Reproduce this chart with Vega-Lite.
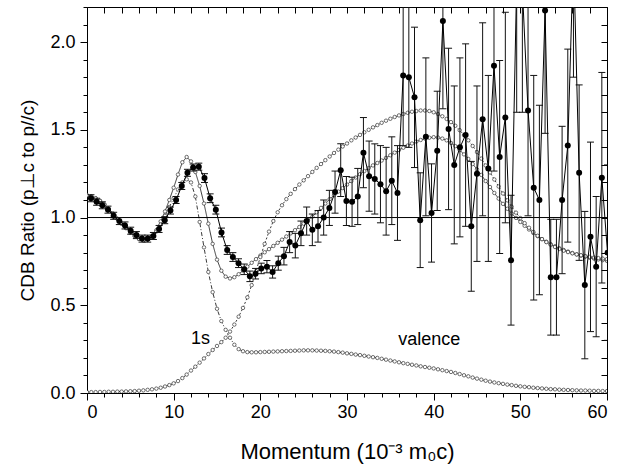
{
  "$schema": "https://vega.github.io/schema/vega-lite/v6.json",
  "width": 520,
  "height": 386,
  "autosize": "none",
  "padding": {"left": 87, "top": 7, "right": 10, "bottom": 75},
  "config": {"view": {"stroke": "black", "strokeWidth": 1}, "font": "Liberation Sans"},
  "datasets": {
    "theory": [
      {"x":0,"y":1.127,"s":"total"},{"x":0.5,"y":1.12,"s":"total"},{"x":1,"y":1.11,"s":"total"},{"x":1.5,"y":1.095,"s":"total"},{"x":2,"y":1.075,"s":"total"},{"x":2.5,"y":1.05,"s":"total"},{"x":3,"y":1.022,"s":"total"},{"x":3.5,"y":0.993,"s":"total"},{"x":4,"y":0.965,"s":"total"},{"x":4.5,"y":0.94,"s":"total"},{"x":5,"y":0.915,"s":"total"},{"x":5.5,"y":0.895,"s":"total"},{"x":6,"y":0.878,"s":"total"},{"x":6.5,"y":0.87,"s":"total"},{"x":7,"y":0.874,"s":"total"},{"x":7.5,"y":0.893,"s":"total"},{"x":8,"y":0.928,"s":"total"},{"x":8.5,"y":0.978,"s":"total"},{"x":9,"y":1.035,"s":"total"},{"x":9.5,"y":1.1,"s":"total"},{"x":10,"y":1.17,"s":"total"},{"x":10.5,"y":1.245,"s":"total"},{"x":11,"y":1.315,"s":"total"},{"x":11.5,"y":1.345,"s":"total"},{"x":12,"y":1.32,"s":"total"},{"x":12.5,"y":1.26,"s":"total"},{"x":13,"y":1.18,"s":"total"},{"x":13.5,"y":1.08,"s":"total"},{"x":14,"y":0.965,"s":"total"},{"x":14.5,"y":0.85,"s":"total"},{"x":15,"y":0.76,"s":"total"},{"x":15.5,"y":0.697,"s":"total"},{"x":16,"y":0.663,"s":"total"},{"x":16.5,"y":0.653,"s":"total"},{"x":17,"y":0.66,"s":"total"},{"x":17.5,"y":0.677,"s":"total"},{"x":18,"y":0.698,"s":"total"},{"x":18.5,"y":0.72,"s":"total"},{"x":19,"y":0.742,"s":"total"},{"x":19.5,"y":0.763,"s":"total"},{"x":20,"y":0.783,"s":"total"},{"x":20.5,"y":0.802,"s":"total"},{"x":21,"y":0.82,"s":"total"},{"x":21.5,"y":0.838,"s":"total"},{"x":22,"y":0.856,"s":"total"},{"x":22.5,"y":0.874,"s":"total"},{"x":23,"y":0.892,"s":"total"},{"x":23.5,"y":0.91,"s":"total"},{"x":24,"y":0.928,"s":"total"},{"x":24.5,"y":0.946,"s":"total"},{"x":25,"y":0.965,"s":"total"},{"x":25.5,"y":0.985,"s":"total"},{"x":26,"y":1.005,"s":"total"},{"x":26.5,"y":1.03,"s":"total"},{"x":27,"y":1.055,"s":"total"},{"x":27.5,"y":1.08,"s":"total"},{"x":28,"y":1.105,"s":"total"},{"x":28.5,"y":1.127,"s":"total"},{"x":29,"y":1.148,"s":"total"},{"x":29.5,"y":1.168,"s":"total"},{"x":30,"y":1.188,"s":"total"},{"x":30.5,"y":1.208,"s":"total"},{"x":31,"y":1.228,"s":"total"},{"x":31.5,"y":1.247,"s":"total"},{"x":32,"y":1.265,"s":"total"},{"x":32.5,"y":1.282,"s":"total"},{"x":33,"y":1.297,"s":"total"},{"x":33.5,"y":1.311,"s":"total"},{"x":34,"y":1.325,"s":"total"},{"x":34.5,"y":1.34,"s":"total"},{"x":35,"y":1.355,"s":"total"},{"x":35.5,"y":1.37,"s":"total"},{"x":36,"y":1.385,"s":"total"},{"x":36.5,"y":1.398,"s":"total"},{"x":37,"y":1.41,"s":"total"},{"x":37.5,"y":1.422,"s":"total"},{"x":38,"y":1.433,"s":"total"},{"x":38.5,"y":1.442,"s":"total"},{"x":39,"y":1.45,"s":"total"},{"x":39.5,"y":1.455,"s":"total"},{"x":40,"y":1.458,"s":"total"},{"x":40.5,"y":1.456,"s":"total"},{"x":41,"y":1.45,"s":"total"},{"x":41.5,"y":1.44,"s":"total"},{"x":42,"y":1.425,"s":"total"},{"x":42.5,"y":1.407,"s":"total"},{"x":43,"y":1.385,"s":"total"},{"x":43.5,"y":1.36,"s":"total"},{"x":44,"y":1.334,"s":"total"},{"x":44.5,"y":1.305,"s":"total"},{"x":45,"y":1.275,"s":"total"},{"x":45.5,"y":1.243,"s":"total"},{"x":46,"y":1.208,"s":"total"},{"x":46.5,"y":1.174,"s":"total"},{"x":47,"y":1.14,"s":"total"},{"x":47.5,"y":1.108,"s":"total"},{"x":48,"y":1.078,"s":"total"},{"x":48.5,"y":1.05,"s":"total"},{"x":49,"y":1.023,"s":"total"},{"x":49.5,"y":0.998,"s":"total"},{"x":50,"y":0.975,"s":"total"},{"x":50.5,"y":0.953,"s":"total"},{"x":51,"y":0.932,"s":"total"},{"x":51.5,"y":0.912,"s":"total"},{"x":52,"y":0.894,"s":"total"},{"x":52.5,"y":0.877,"s":"total"},{"x":53,"y":0.862,"s":"total"},{"x":53.5,"y":0.848,"s":"total"},{"x":54,"y":0.836,"s":"total"},{"x":54.5,"y":0.825,"s":"total"},{"x":55,"y":0.815,"s":"total"},{"x":55.5,"y":0.806,"s":"total"},{"x":56,"y":0.798,"s":"total"},{"x":56.5,"y":0.79,"s":"total"},{"x":57,"y":0.783,"s":"total"},{"x":57.5,"y":0.777,"s":"total"},{"x":58,"y":0.771,"s":"total"},{"x":58.5,"y":0.766,"s":"total"},{"x":59,"y":0.761,"s":"total"},{"x":59.5,"y":0.757,"s":"total"},{"x":60,"y":0.753,"s":"total"},
      {"x":0,"y":0.005,"s":"1s"},{"x":0.5,"y":0.005,"s":"1s"},{"x":1,"y":0.005,"s":"1s"},{"x":1.5,"y":0.006,"s":"1s"},{"x":2,"y":0.006,"s":"1s"},{"x":2.5,"y":0.007,"s":"1s"},{"x":3,"y":0.007,"s":"1s"},{"x":3.5,"y":0.008,"s":"1s"},{"x":4,"y":0.008,"s":"1s"},{"x":4.5,"y":0.009,"s":"1s"},{"x":5,"y":0.01,"s":"1s"},{"x":5.5,"y":0.011,"s":"1s"},{"x":6,"y":0.013,"s":"1s"},{"x":6.5,"y":0.015,"s":"1s"},{"x":7,"y":0.018,"s":"1s"},{"x":7.5,"y":0.021,"s":"1s"},{"x":8,"y":0.025,"s":"1s"},{"x":8.5,"y":0.03,"s":"1s"},{"x":9,"y":0.037,"s":"1s"},{"x":9.5,"y":0.045,"s":"1s"},{"x":10,"y":0.055,"s":"1s"},{"x":10.5,"y":0.068,"s":"1s"},{"x":11,"y":0.085,"s":"1s"},{"x":11.5,"y":0.105,"s":"1s"},{"x":12,"y":0.128,"s":"1s"},{"x":12.5,"y":0.15,"s":"1s"},{"x":13,"y":0.173,"s":"1s"},{"x":13.5,"y":0.197,"s":"1s"},{"x":14,"y":0.222,"s":"1s"},{"x":14.5,"y":0.245,"s":"1s"},{"x":15,"y":0.268,"s":"1s"},{"x":15.5,"y":0.29,"s":"1s"},{"x":16,"y":0.315,"s":"1s"},{"x":16.5,"y":0.35,"s":"1s"},{"x":17,"y":0.39,"s":"1s"},{"x":17.5,"y":0.435,"s":"1s"},{"x":18,"y":0.485,"s":"1s"},{"x":18.5,"y":0.545,"s":"1s"},{"x":19,"y":0.615,"s":"1s"},{"x":19.5,"y":0.695,"s":"1s"},{"x":20,"y":0.775,"s":"1s"},{"x":20.5,"y":0.85,"s":"1s"},{"x":21,"y":0.92,"s":"1s"},{"x":21.5,"y":0.98,"s":"1s"},{"x":22,"y":1.03,"s":"1s"},{"x":22.5,"y":1.07,"s":"1s"},{"x":23,"y":1.105,"s":"1s"},{"x":23.5,"y":1.135,"s":"1s"},{"x":24,"y":1.162,"s":"1s"},{"x":24.5,"y":1.188,"s":"1s"},{"x":25,"y":1.212,"s":"1s"},{"x":25.5,"y":1.236,"s":"1s"},{"x":26,"y":1.26,"s":"1s"},{"x":26.5,"y":1.283,"s":"1s"},{"x":27,"y":1.305,"s":"1s"},{"x":27.5,"y":1.327,"s":"1s"},{"x":28,"y":1.348,"s":"1s"},{"x":28.5,"y":1.368,"s":"1s"},{"x":29,"y":1.387,"s":"1s"},{"x":29.5,"y":1.405,"s":"1s"},{"x":30,"y":1.422,"s":"1s"},{"x":30.5,"y":1.44,"s":"1s"},{"x":31,"y":1.456,"s":"1s"},{"x":31.5,"y":1.471,"s":"1s"},{"x":32,"y":1.486,"s":"1s"},{"x":32.5,"y":1.5,"s":"1s"},{"x":33,"y":1.514,"s":"1s"},{"x":33.5,"y":1.527,"s":"1s"},{"x":34,"y":1.54,"s":"1s"},{"x":34.5,"y":1.552,"s":"1s"},{"x":35,"y":1.563,"s":"1s"},{"x":35.5,"y":1.573,"s":"1s"},{"x":36,"y":1.582,"s":"1s"},{"x":36.5,"y":1.59,"s":"1s"},{"x":37,"y":1.597,"s":"1s"},{"x":37.5,"y":1.603,"s":"1s"},{"x":38,"y":1.607,"s":"1s"},{"x":38.5,"y":1.61,"s":"1s"},{"x":39,"y":1.61,"s":"1s"},{"x":39.5,"y":1.607,"s":"1s"},{"x":40,"y":1.6,"s":"1s"},{"x":40.5,"y":1.59,"s":"1s"},{"x":41,"y":1.577,"s":"1s"},{"x":41.5,"y":1.562,"s":"1s"},{"x":42,"y":1.544,"s":"1s"},{"x":42.5,"y":1.523,"s":"1s"},{"x":43,"y":1.498,"s":"1s"},{"x":43.5,"y":1.47,"s":"1s"},{"x":44,"y":1.44,"s":"1s"},{"x":44.5,"y":1.408,"s":"1s"},{"x":45,"y":1.373,"s":"1s"},{"x":45.5,"y":1.336,"s":"1s"},{"x":46,"y":1.297,"s":"1s"},{"x":46.5,"y":1.257,"s":"1s"},{"x":47,"y":1.217,"s":"1s"},{"x":47.5,"y":1.177,"s":"1s"},{"x":48,"y":1.137,"s":"1s"},{"x":48.5,"y":1.098,"s":"1s"},{"x":49,"y":1.062,"s":"1s"},{"x":49.5,"y":1.028,"s":"1s"},{"x":50,"y":0.997,"s":"1s"},{"x":50.5,"y":0.968,"s":"1s"},{"x":51,"y":0.942,"s":"1s"},{"x":51.5,"y":0.918,"s":"1s"},{"x":52,"y":0.896,"s":"1s"},{"x":52.5,"y":0.877,"s":"1s"},{"x":53,"y":0.86,"s":"1s"},{"x":53.5,"y":0.845,"s":"1s"},{"x":54,"y":0.832,"s":"1s"},{"x":54.5,"y":0.821,"s":"1s"},{"x":55,"y":0.811,"s":"1s"},{"x":55.5,"y":0.803,"s":"1s"},{"x":56,"y":0.796,"s":"1s"},{"x":56.5,"y":0.79,"s":"1s"},{"x":57,"y":0.785,"s":"1s"},{"x":57.5,"y":0.78,"s":"1s"},{"x":58,"y":0.776,"s":"1s"},{"x":58.5,"y":0.772,"s":"1s"},{"x":59,"y":0.769,"s":"1s"},{"x":59.5,"y":0.766,"s":"1s"},{"x":60,"y":0.763,"s":"1s"},
      {"x":0,"y":1.127,"s":"valence"},{"x":0.5,"y":1.12,"s":"valence"},{"x":1,"y":1.11,"s":"valence"},{"x":1.5,"y":1.095,"s":"valence"},{"x":2,"y":1.075,"s":"valence"},{"x":2.5,"y":1.05,"s":"valence"},{"x":3,"y":1.022,"s":"valence"},{"x":3.5,"y":0.993,"s":"valence"},{"x":4,"y":0.965,"s":"valence"},{"x":4.5,"y":0.94,"s":"valence"},{"x":5,"y":0.915,"s":"valence"},{"x":5.5,"y":0.895,"s":"valence"},{"x":6,"y":0.878,"s":"valence"},{"x":6.5,"y":0.871,"s":"valence"},{"x":7,"y":0.874,"s":"valence"},{"x":7.5,"y":0.89,"s":"valence"},{"x":8,"y":0.92,"s":"valence"},{"x":8.5,"y":0.96,"s":"valence"},{"x":9,"y":1.01,"s":"valence"},{"x":9.5,"y":1.06,"s":"valence"},{"x":10,"y":1.11,"s":"valence"},{"x":10.5,"y":1.16,"s":"valence"},{"x":11,"y":1.2,"s":"valence"},{"x":11.5,"y":1.218,"s":"valence"},{"x":12,"y":1.2,"s":"valence"},{"x":12.5,"y":1.12,"s":"valence"},{"x":13,"y":0.975,"s":"valence"},{"x":13.5,"y":0.83,"s":"valence"},{"x":14,"y":0.69,"s":"valence"},{"x":14.5,"y":0.575,"s":"valence"},{"x":15,"y":0.48,"s":"valence"},{"x":15.5,"y":0.41,"s":"valence"},{"x":16,"y":0.36,"s":"valence"},{"x":16.5,"y":0.315,"s":"valence"},{"x":17,"y":0.275,"s":"valence"},{"x":17.5,"y":0.25,"s":"valence"},{"x":18,"y":0.238,"s":"valence"},{"x":18.5,"y":0.233,"s":"valence"},{"x":19,"y":0.232,"s":"valence"},{"x":19.5,"y":0.232,"s":"valence"},{"x":20,"y":0.233,"s":"valence"},{"x":20.5,"y":0.234,"s":"valence"},{"x":21,"y":0.235,"s":"valence"},{"x":21.5,"y":0.236,"s":"valence"},{"x":22,"y":0.237,"s":"valence"},{"x":22.5,"y":0.238,"s":"valence"},{"x":23,"y":0.239,"s":"valence"},{"x":23.5,"y":0.24,"s":"valence"},{"x":24,"y":0.241,"s":"valence"},{"x":24.5,"y":0.242,"s":"valence"},{"x":25,"y":0.243,"s":"valence"},{"x":25.5,"y":0.243,"s":"valence"},{"x":26,"y":0.243,"s":"valence"},{"x":26.5,"y":0.242,"s":"valence"},{"x":27,"y":0.241,"s":"valence"},{"x":27.5,"y":0.24,"s":"valence"},{"x":28,"y":0.238,"s":"valence"},{"x":28.5,"y":0.236,"s":"valence"},{"x":29,"y":0.233,"s":"valence"},{"x":29.5,"y":0.23,"s":"valence"},{"x":30,"y":0.226,"s":"valence"},{"x":30.5,"y":0.223,"s":"valence"},{"x":31,"y":0.219,"s":"valence"},{"x":31.5,"y":0.216,"s":"valence"},{"x":32,"y":0.212,"s":"valence"},{"x":32.5,"y":0.208,"s":"valence"},{"x":33,"y":0.204,"s":"valence"},{"x":33.5,"y":0.2,"s":"valence"},{"x":34,"y":0.195,"s":"valence"},{"x":34.5,"y":0.19,"s":"valence"},{"x":35,"y":0.185,"s":"valence"},{"x":35.5,"y":0.18,"s":"valence"},{"x":36,"y":0.175,"s":"valence"},{"x":36.5,"y":0.17,"s":"valence"},{"x":37,"y":0.166,"s":"valence"},{"x":37.5,"y":0.161,"s":"valence"},{"x":38,"y":0.157,"s":"valence"},{"x":38.5,"y":0.152,"s":"valence"},{"x":39,"y":0.148,"s":"valence"},{"x":39.5,"y":0.144,"s":"valence"},{"x":40,"y":0.14,"s":"valence"},{"x":40.5,"y":0.135,"s":"valence"},{"x":41,"y":0.13,"s":"valence"},{"x":41.5,"y":0.125,"s":"valence"},{"x":42,"y":0.12,"s":"valence"},{"x":42.5,"y":0.114,"s":"valence"},{"x":43,"y":0.108,"s":"valence"},{"x":43.5,"y":0.101,"s":"valence"},{"x":44,"y":0.095,"s":"valence"},{"x":44.5,"y":0.088,"s":"valence"},{"x":45,"y":0.082,"s":"valence"},{"x":45.5,"y":0.076,"s":"valence"},{"x":46,"y":0.07,"s":"valence"},{"x":46.5,"y":0.065,"s":"valence"},{"x":47,"y":0.06,"s":"valence"},{"x":47.5,"y":0.056,"s":"valence"},{"x":48,"y":0.052,"s":"valence"},{"x":48.5,"y":0.048,"s":"valence"},{"x":49,"y":0.045,"s":"valence"},{"x":49.5,"y":0.041,"s":"valence"},{"x":50,"y":0.038,"s":"valence"},{"x":50.5,"y":0.035,"s":"valence"},{"x":51,"y":0.033,"s":"valence"},{"x":51.5,"y":0.03,"s":"valence"},{"x":52,"y":0.028,"s":"valence"},{"x":52.5,"y":0.026,"s":"valence"},{"x":53,"y":0.024,"s":"valence"},{"x":53.5,"y":0.022,"s":"valence"},{"x":54,"y":0.021,"s":"valence"},{"x":54.5,"y":0.019,"s":"valence"},{"x":55,"y":0.018,"s":"valence"},{"x":55.5,"y":0.017,"s":"valence"},{"x":56,"y":0.016,"s":"valence"},{"x":56.5,"y":0.015,"s":"valence"},{"x":57,"y":0.014,"s":"valence"},{"x":57.5,"y":0.014,"s":"valence"},{"x":58,"y":0.013,"s":"valence"},{"x":58.5,"y":0.012,"s":"valence"},{"x":59,"y":0.012,"s":"valence"},{"x":59.5,"y":0.011,"s":"valence"},{"x":60,"y":0.011,"s":"valence"}
    ],
    "exp": [
      {"x":0.455,"y":1.11,"lo":1.09,"hi":1.13},{"x":1.11,"y":1.09,"lo":1.07,"hi":1.11},{"x":1.765,"y":1.07,"lo":1.05,"hi":1.09},{"x":2.42,"y":1.045,"lo":1.025,"hi":1.065},{"x":3.075,"y":1.01,"lo":0.99,"hi":1.03},{"x":3.73,"y":0.98,"lo":0.96,"hi":1.0},{"x":4.385,"y":0.955,"lo":0.935,"hi":0.975},{"x":5.04,"y":0.925,"lo":0.905,"hi":0.945},{"x":5.695,"y":0.9,"lo":0.88,"hi":0.92},{"x":6.35,"y":0.88,"lo":0.86,"hi":0.9},{"x":7.005,"y":0.88,"lo":0.86,"hi":0.9},{"x":7.66,"y":0.895,"lo":0.875,"hi":0.915},{"x":8.315,"y":0.935,"lo":0.915,"hi":0.955},{"x":8.97,"y":0.985,"lo":0.965,"hi":1.005},{"x":9.625,"y":1.04,"lo":1.02,"hi":1.06},{"x":10.28,"y":1.1,"lo":1.08,"hi":1.12},{"x":10.935,"y":1.18,"lo":1.16,"hi":1.2},{"x":11.59,"y":1.255,"lo":1.235,"hi":1.275},{"x":12.245,"y":1.285,"lo":1.265,"hi":1.305},{"x":12.9,"y":1.29,"lo":1.27,"hi":1.31},
      {"x":13.555,"y":1.225,"lo":1.2,"hi":1.25},{"x":14.21,"y":1.11,"lo":1.085,"hi":1.135},{"x":14.865,"y":1.045,"lo":1.02,"hi":1.07},{"x":15.52,"y":0.915,"lo":0.89,"hi":0.94},{"x":16.175,"y":0.815,"lo":0.79,"hi":0.84},{"x":16.83,"y":0.775,"lo":0.75,"hi":0.8},{"x":17.485,"y":0.74,"lo":0.715,"hi":0.765},{"x":18.14,"y":0.705,"lo":0.675,"hi":0.735},{"x":18.795,"y":0.665,"lo":0.635,"hi":0.695},{"x":19.45,"y":0.68,"lo":0.65,"hi":0.71},{"x":20.105,"y":0.71,"lo":0.68,"hi":0.74},{"x":20.76,"y":0.72,"lo":0.685,"hi":0.755},{"x":21.415,"y":0.69,"lo":0.655,"hi":0.725},{"x":22.07,"y":0.74,"lo":0.7,"hi":0.78},{"x":22.725,"y":0.78,"lo":0.73,"hi":0.83},{"x":23.38,"y":0.86,"lo":0.8,"hi":0.92},{"x":24.035,"y":0.84,"lo":0.77,"hi":0.91},{"x":24.69,"y":0.91,"lo":0.84,"hi":0.98},{"x":25.345,"y":0.98,"lo":0.9,"hi":1.06},{"x":26.0,"y":0.93,"lo":0.84,"hi":1.02},
      {"x":26.655,"y":0.95,"lo":0.86,"hi":1.04},{"x":27.31,"y":1.0,"lo":0.9,"hi":1.1},{"x":27.965,"y":1.055,"lo":0.955,"hi":1.155},{"x":28.62,"y":1.145,"lo":1.025,"hi":1.265},{"x":29.275,"y":1.27,"lo":1.12,"hi":1.42},{"x":29.93,"y":1.094,"lo":0.954,"hi":1.234},{"x":30.585,"y":1.09,"lo":0.95,"hi":1.23},{"x":31.24,"y":1.12,"lo":0.96,"hi":1.28},{"x":31.895,"y":1.37,"lo":1.17,"hi":1.57},{"x":32.55,"y":1.236,"lo":1.036,"hi":1.436},{"x":33.205,"y":1.22,"lo":1.02,"hi":1.42},{"x":33.86,"y":1.19,"lo":0.97,"hi":1.41},{"x":34.515,"y":1.15,"lo":0.9,"hi":1.4},{"x":35.17,"y":1.21,"lo":0.96,"hi":1.46},{"x":35.825,"y":1.14,"lo":0.87,"hi":1.41},{"x":36.48,"y":1.81,"lo":1.41,"hi":2.21},{"x":37.135,"y":1.8,"lo":1.4,"hi":2.2},{"x":37.79,"y":1.685,"lo":1.285,"hi":2.085},{"x":38.445,"y":0.985,"lo":0.715,"hi":1.255},{"x":39.1,"y":1.46,"lo":1.01,"hi":1.91},
      {"x":39.755,"y":1.026,"lo":0.746,"hi":1.306},{"x":40.41,"y":1.38,"lo":1.04,"hi":1.72},{"x":41.065,"y":2.12,"lo":1.62,"hi":2.62},{"x":41.72,"y":1.505,"lo":1.045,"hi":1.965},{"x":42.375,"y":1.3,"lo":0.85,"hi":1.75},{"x":43.03,"y":1.4,"lo":0.89,"hi":1.91},{"x":43.685,"y":1.47,"lo":0.95,"hi":1.99},{"x":44.34,"y":0.95,"lo":0.58,"hi":1.32},{"x":44.995,"y":1.25,"lo":0.75,"hi":1.75},{"x":45.65,"y":1.56,"lo":1.01,"hi":2.11},{"x":46.305,"y":1.28,"lo":0.75,"hi":1.81},{"x":46.96,"y":1.865,"lo":1.265,"hi":2.465},{"x":47.615,"y":1.345,"lo":0.795,"hi":1.895},{"x":48.27,"y":1.57,"lo":0.97,"hi":2.17},{"x":48.925,"y":0.757,"lo":0.387,"hi":1.127},{"x":49.58,"y":2.35,"lo":1.6,"hi":3.1},{"x":50.235,"y":2.3,"lo":1.6,"hi":3.0},{"x":50.89,"y":1.61,"lo":1.01,"hi":2.21},{"x":51.545,"y":1.17,"lo":0.53,"hi":1.81},{"x":52.2,"y":1.1,"lo":0.56,"hi":1.64},
      {"x":52.855,"y":2.18,"lo":1.48,"hi":2.88},{"x":53.51,"y":0.66,"lo":0.33,"hi":0.99},{"x":54.165,"y":0.66,"lo":0.33,"hi":0.99},{"x":54.82,"y":1.1,"lo":0.68,"hi":1.52},{"x":55.475,"y":1.41,"lo":0.86,"hi":1.96},{"x":56.13,"y":2.5,"lo":1.8,"hi":3.2},{"x":56.785,"y":1.256,"lo":0.756,"hi":1.756},{"x":57.44,"y":0.615,"lo":0.195,"hi":1.035},{"x":58.095,"y":0.89,"lo":0.35,"hi":1.43},{"x":58.75,"y":0.72,"lo":0.32,"hi":1.12},{"x":59.405,"y":1.227,"lo":0.627,"hi":1.827},{"x":60.06,"y":0.8,"lo":0.3,"hi":1.3}
    ],
    "labels": [
      {"x":13.1,"y":0.31,"t":"1s"},
      {"x":39.5,"y":0.30,"t":"valence"}
    ]
  },
  "resolve": {"axis": {"x": "independent", "y": "independent"}},
  "layer": [
    {
      "data": {"name": "theory"},
      "mark": {"type": "line", "strokeWidth": 0.9, "color": "#222", "clip": true},
      "encoding": {
        "x": {"field": "x", "type": "quantitative", "scale": {"domain": [0, 60], "nice": false, "zero": false},
          "axis": {"orient": "bottom", "values": [0,2,4,6,8,10,12,14,16,18,20,22,24,26,28,30,32,34,36,38,40,42,44,46,48,50,52,54,56,58,60],
            "labelExpr": "datum.value % 10 === 0 ? datum.label : ''",
            "tickSize": {"condition": {"test": "datum.value % 10 === 0", "value": 7}, "value": 4},
            "grid": false, "domain": false, "tickColor": "black", "labelColor": "black", "labelFontSize": 18, "labelPadding": 3,
            "title": "Momentum  (10⁻³ m₀c)", "titleFontSize": 22, "titleFontWeight": "normal", "titleColor": "black", "titlePadding": 20}},
        "y": {"field": "y", "type": "quantitative", "scale": {"domain": [0, 2.2], "nice": false, "zero": false},
          "axis": {"orient": "left", "values": [0,0.1,0.2,0.3,0.4,0.5,0.6,0.7,0.8,0.9,1,1.1,1.2,1.3,1.4,1.5,1.6,1.7,1.8,1.9,2,2.1,2.2],
            "labelExpr": "abs(datum.value*2 - round(datum.value*2)) < 0.001 ? format(datum.value, '.1f') : ''",
            "tickSize": {"condition": {"test": "abs(datum.value*2 - round(datum.value*2)) < 0.001", "value": 7}, "value": 4},
            "grid": false, "domain": false, "tickColor": "black", "labelColor": "black", "labelFontSize": 18, "labelPadding": 5,
            "title": "CDB Ratio (p⊥c to p//c)", "titleFontSize": 19, "titleFontWeight": "normal", "titleColor": "black", "titlePadding": 12}},
        "strokeDash": {"field": "s", "type": "nominal", "scale": {"domain": ["total", "1s", "valence"], "range": [[1, 0], [2, 2], [4, 2, 1, 2]]}, "legend": null}
      }
    },
    {
      "data": {"name": "theory"},
      "mark": {"type": "point", "shape": "circle", "filled": true, "fill": "white", "stroke": "#333", "strokeWidth": 0.7, "size": 12, "opacity": 1, "clip": true},
      "encoding": {
        "x": {"field": "x", "type": "quantitative", "scale": {"domain": [0, 60], "nice": false, "zero": false},
          "axis": {"orient": "top", "values": [0,2,4,6,8,10,12,14,16,18,20,22,24,26,28,30,32,34,36,38,40,42,44,46,48,50,52,54,56,58,60],
            "labels": false, "title": null, "grid": false, "domain": false, "tickColor": "black", "offset": -6, "tickSize": 6}},
        "y": {"field": "y", "type": "quantitative", "scale": {"domain": [0, 2.2], "nice": false, "zero": false},
          "axis": {"orient": "right", "values": [0,0.1,0.2,0.3,0.4,0.5,0.6,0.7,0.8,0.9,1,1.1,1.2,1.3,1.4,1.5,1.6,1.7,1.8,1.9,2,2.1,2.2],
            "labels": false, "title": null, "grid": false, "domain": false, "tickColor": "black", "offset": -6, "tickSize": 6}}
      }
    },
    {
      "data": {"values": [{"y": 1}]},
      "mark": {"type": "rule", "color": "black", "strokeWidth": 1},
      "encoding": {"y": {"field": "y", "type": "quantitative", "scale": {"domain": [0, 2.2], "nice": false, "zero": false}, "axis": null}}
    },
    {
      "data": {"name": "exp"},
      "mark": {"type": "rule", "color": "#111", "strokeWidth": 1, "clip": true},
      "encoding": {
        "x": {"field": "x", "type": "quantitative", "scale": {"domain": [0, 60], "nice": false, "zero": false}, "axis": null},
        "y": {"field": "lo", "type": "quantitative", "scale": {"domain": [0, 2.2], "nice": false, "zero": false}, "axis": null},
        "y2": {"field": "hi"}
      }
    },
    {
      "data": {"name": "exp"},
      "mark": {"type": "tick", "orient": "horizontal", "size": 7, "thickness": 1, "color": "#111", "opacity": 1, "clip": true},
      "encoding": {
        "x": {"field": "x", "type": "quantitative", "scale": {"domain": [0, 60], "nice": false, "zero": false}, "axis": null},
        "y": {"field": "lo", "type": "quantitative", "scale": {"domain": [0, 2.2], "nice": false, "zero": false}, "axis": null}
      }
    },
    {
      "data": {"name": "exp"},
      "mark": {"type": "tick", "orient": "horizontal", "size": 7, "thickness": 1, "color": "#111", "opacity": 1, "clip": true},
      "encoding": {
        "x": {"field": "x", "type": "quantitative", "scale": {"domain": [0, 60], "nice": false, "zero": false}, "axis": null},
        "y": {"field": "hi", "type": "quantitative", "scale": {"domain": [0, 2.2], "nice": false, "zero": false}, "axis": null}
      }
    },
    {
      "data": {"name": "exp"},
      "mark": {"type": "line", "color": "black", "strokeWidth": 1, "clip": true, "point": {"filled": true, "color": "black", "size": 36, "opacity": 1}},
      "encoding": {
        "x": {"field": "x", "type": "quantitative", "scale": {"domain": [0, 60], "nice": false, "zero": false}, "axis": null},
        "y": {"field": "y", "type": "quantitative", "scale": {"domain": [0, 2.2], "nice": false, "zero": false}, "axis": null}
      }
    },
    {
      "data": {"name": "labels"},
      "mark": {"type": "text", "fontSize": 18, "color": "black", "align": "center", "baseline": "middle"},
      "encoding": {
        "x": {"field": "x", "type": "quantitative", "scale": {"domain": [0, 60], "nice": false, "zero": false}, "axis": null},
        "y": {"field": "y", "type": "quantitative", "scale": {"domain": [0, 2.2], "nice": false, "zero": false}, "axis": null},
        "text": {"field": "t"}
      }
    }
  ]
}
